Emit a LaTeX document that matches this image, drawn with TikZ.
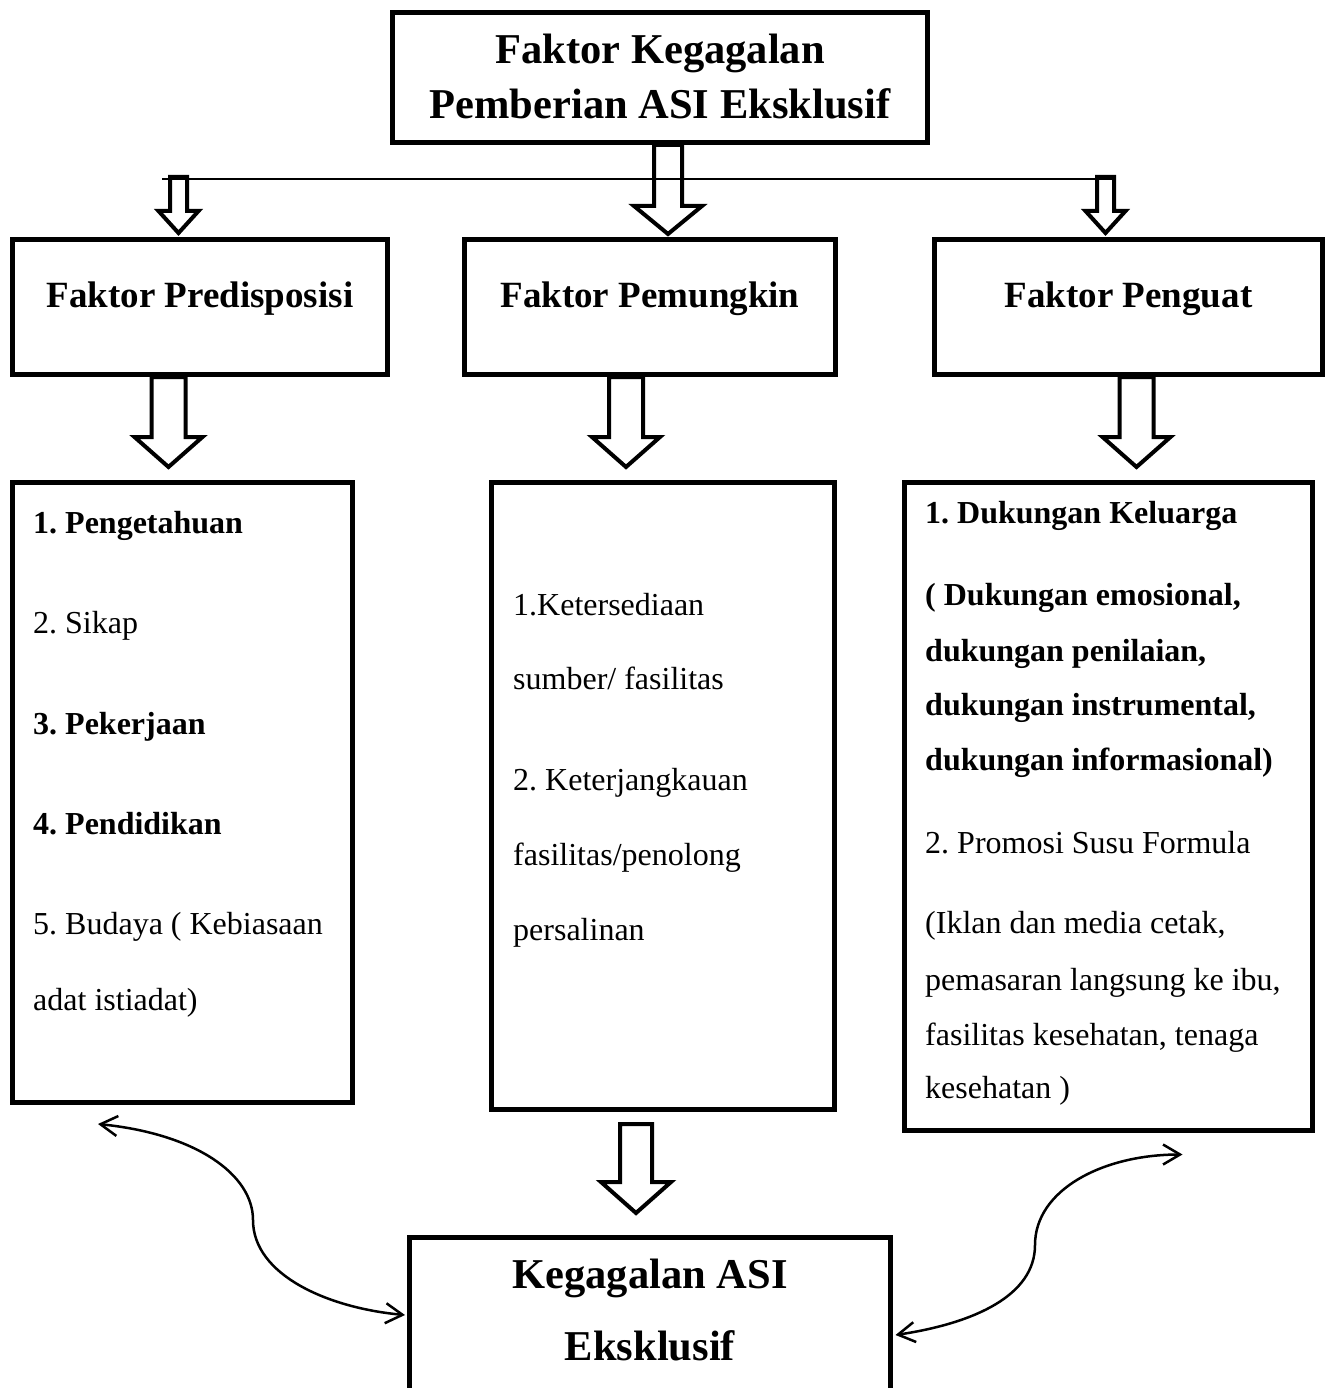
\documentclass[tikz,border=0pt]{standalone}
\usepackage{fontspec}
\setmainfont{Liberation Serif}
\usetikzlibrary{arrows.meta,calc}
\frenchspacing

\newcommand{\butirfont}{\fontsize{32}{38}\selectfont}
\newcommand{\judulfont}{\fontsize{37}{44}\selectfont\bfseries}
\newcommand{\besarfont}{\fontsize{42.5}{50}\selectfont\bfseries}

% panah blok berongga: #1 pangkal, #2 ujung, #3 setengah batang, #4 setengah kepala, #5 panjang kepala
\newcommand{\panah}[5]{%
  \draw[panahblok] ($(#1)+(-#3,0)$) -- ($(#2)+(-#3,-#5)$) -- ($(#2)+(-#4,-#5)$) -- (#2)
    -- ($(#2)+(#4,-#5)$) -- ($(#2)+(#3,-#5)$) -- ($(#1)+(#3,0)$) -- cycle;}

\begin{document}
\begin{tikzpicture}[x=1pt, y=-1pt,
    kotak/.style={draw, line width=5pt, inner sep=0pt},
    butir/.style={anchor=base west, inner sep=0pt, font=\butirfont},
    tebal/.style={butir, font=\butirfont\bfseries},
    judul/.style={anchor=base, inner sep=0pt, font=\judulfont},
    besar/.style={anchor=base, inner sep=0pt, font=\besarfont},
    panahblok/.style={draw, line width=4pt},
    garis/.style={line width=2pt},
    hubung/.style={line width=2.5pt, <->, >={Straight Barb[length=17pt, width=20pt]}}]
  \useasboundingbox (0,0) rectangle (1326,1388);
  \clip (0,0) rectangle (1326,1388);

  % 1. kotak judul
  \node[kotak, minimum width=535pt, minimum height=130pt] (judul) at (660,77.5) {};
  \node[besar] (judul1) at ($(judul.center)+(0,-14)$) {Faktor Kegagalan};
  \node[besar] (judul2) at ($(judul.center)+(0,41)$) {Pemberian ASI Eksklusif};

  % 2. tiga faktor
  \node[kotak, minimum width=375pt, minimum height=135pt] (pre) at (200,307) {};
  \node[kotak, minimum width=371pt, minimum height=135pt] (pem) at (650,307) {};
  \node[kotak, minimum width=388pt, minimum height=135pt] (peng) at (1128.5,307) {};
  \node[judul] (preT) at (pre.center) {Faktor Predisposisi};
  \node[judul] (pemT) at (pem.center) {Faktor Pemungkin};
  \node[judul] (pengT) at (peng.center) {Faktor Penguat};

  % 3. kotak rincian
  \node[kotak, minimum width=340pt, minimum height=620pt] (prelist) at (182.5,792.5) {};
  \node[kotak, minimum width=343pt, minimum height=627pt] (pemlist) at (663,796) {};
  \node[kotak, minimum width=408pt, minimum height=648pt] (penglist) at (1108.5,806.5) {};

  \node[tebal] (pre1) at (33,533) {1. Pengetahuan};
  \node[butir] (pre2) at (33,633) {2. Sikap};
  \node[tebal] (pre3) at (33,734) {3. Pekerjaan};
  \node[tebal] (pre4) at (33,834) {4. Pendidikan};
  \node[butir] (pre5) at (33,934) {5. Budaya ( Kebiasaan};
  \node[butir] (pre6) at (33,1010) {adat istiadat)};

  \node[butir] (pem1) at (513,615) {1.Ketersediaan};
  \node[butir] (pem2) at (513,689) {sumber/ fasilitas};
  \node[butir] (pem3) at (513,790) {2. Keterjangkauan};
  \node[butir] (pem4) at (513,865) {fasilitas/penolong};
  \node[butir] (pem5) at (513,940) {persalinan};

  \node[tebal] (peng1) at (925,523) {1. Dukungan Keluarga};
  \node[tebal] (peng2) at (925,605) {( Dukungan emosional,};
  \node[tebal] (peng3) at (925,661) {dukungan penilaian,};
  \node[tebal] (peng4) at (925,715) {dukungan instrumental,};
  \node[tebal] (peng5) at (925,770) {dukungan informasional)};
  \node[butir] (peng6) at (925,853) {2. Promosi Susu Formula};
  \node[butir] (peng7) at (925,933) {(Iklan dan media cetak,};
  \node[butir] (peng8) at (925,990) {pemasaran langsung ke ibu,};
  \node[butir] (peng9) at (925,1045) {fasilitas kesehatan, tenaga};
  \node[butir] (peng10) at (925,1098) {kesehatan )};

  % 4. kotak hasil (terpotong di tepi bawah)
  \node[kotak, minimum width=481pt, minimum height=200pt] (gagal) at (650,1337.5) {};
  \node[besar] (gagal1) at (650,1288) {Kegagalan ASI};
  \node[besar] (gagal2) at (650,1360) {Eksklusif};

  % 5. garis pembagi dan panah blok
  \coordinate (bagiKiri) at (162,179);
  \coordinate (bagiKanan) at (1114,179);
  \draw[garis] (bagiKiri) -- (bagiKanan);

  \coordinate (a1) at (judul.south -| 668,0);
  \coordinate (b1) at ($(pem.north -| 668,0)+(0,-3)$);
  \coordinate (a2) at ($(bagiKiri -| 178.5,0)+(0,-2)$);
  \coordinate (b2) at ($(pre.north -| 178.5,0)+(0,-4)$);
  \coordinate (a3) at ($(bagiKanan -| 1105.5,0)+(0,-2)$);
  \coordinate (b3) at ($(peng.north -| 1105.5,0)+(0,-4)$);
  \coordinate (a4) at (pre.south -| 168.5,0);
  \coordinate (b4) at ($(prelist.north -| 168.5,0)+(0,-13)$);
  \coordinate (a5) at (pem.south -| 626,0);
  \coordinate (b5) at ($(pemlist.north -| 626,0)+(0,-13)$);
  \coordinate (a6) at (peng.south -| 1136.5,0);
  \coordinate (b6) at ($(penglist.north -| 1136.5,0)+(0,-13)$);
  \coordinate (a7) at ($(pemlist.south -| 636,0)+(0,12)$);
  \coordinate (b7) at ($(gagal.north -| 636,0)+(0,-22)$);

  \panah{a1}{b1}{14}{34}{28}
  \panah{a2}{b2}{8.5}{20}{22}
  \panah{a3}{b3}{8.5}{20}{22}
  \panah{a4}{b4}{17}{34}{30}
  \panah{a5}{b5}{17}{34}{30}
  \panah{a6}{b6}{17}{34}{30}
  \panah{a7}{b7}{16}{35}{31}

  % 6. panah lengkung dua arah
  \coordinate (lengkungKiri) at ($(prelist.south west)+(88,19)$);
  \coordinate (ujungKiri) at ($(gagal.north west)+(-2,80)$);
  \coordinate (lengkungKanan) at ($(penglist.south east)+(-132.5,21.5)$);
  \coordinate (ujungKanan) at ($(gagal.north east)+(2.5,100)$);
  \draw[hubung] (lengkungKiri) .. controls +(99,10) and +(0,-45) .. (253,1220)
    .. controls +(0,55) and +(-77,-7) .. (ujungKiri);
  \draw[hubung] (ujungKanan) .. controls +(80,-12) and +(0,50) .. (1035,1245)
    .. controls +(0,-55) and +(-80,0) .. (lengkungKanan);
\end{tikzpicture}
\end{document}
